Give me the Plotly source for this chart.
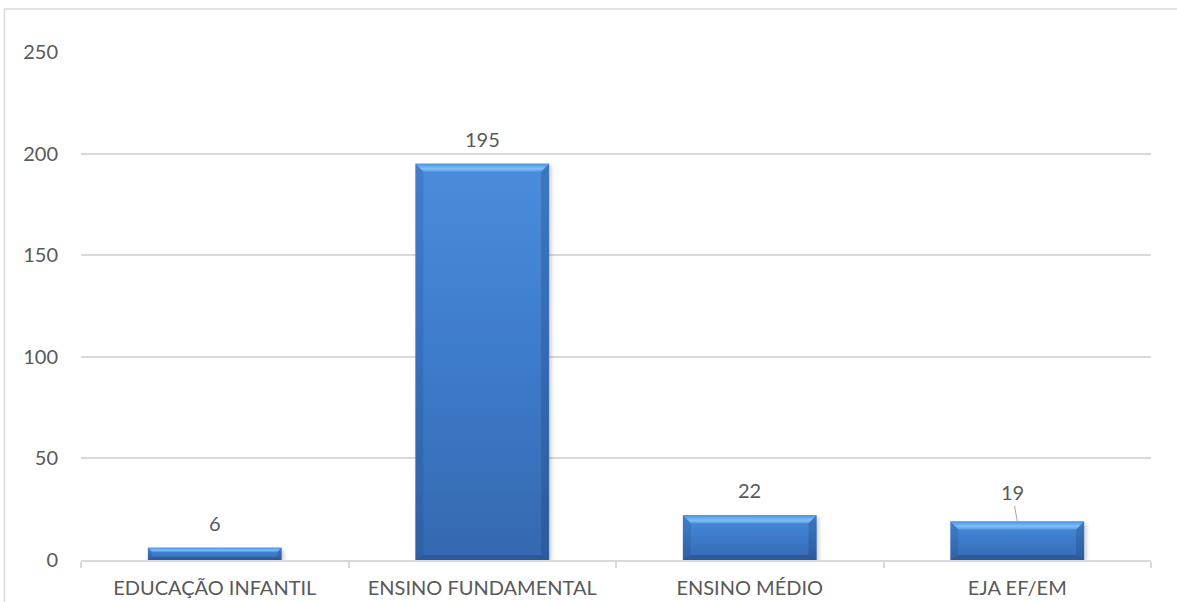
import plotly.graph_objects as go

# Matrículas por etapa de ensino
categories = ["EDUCAÇÃO INFANTIL", "ENSINO FUNDAMENTAL", "ENSINO MÉDIO", "EJA EF/EM"]
values = [6, 195, 22, 19]
y_ticks = [0, 50, 100, 150, 200, 250]

TEXT = "#595959"
GRID = "#d9d9d9"
FONT = "Lato"
FSIZE = 20

fig = go.Figure(
    go.Bar(
        x=categories,
        y=values,
        width=0.5,
        marker=dict(color="#3c78c6", line=dict(width=0)),
        hoverinfo="skip",
    )
)

# value labels above each bar; the last one sits higher with a leader line
for i, (c, v) in enumerate(zip(categories, values)):
    if i == len(categories) - 1:
        fig.add_annotation(
            x=c, y=v, text=str(v), showarrow=True, arrowhead=0,
            arrowwidth=1, arrowcolor="#a6a6a6", ax=-5, ay=-29,
            font=dict(family=FONT, size=FSIZE, color=TEXT),
        )
    else:
        fig.add_annotation(
            x=c, y=v, text=str(v), showarrow=False, yanchor="middle",
            yshift=25, font=dict(family=FONT, size=FSIZE, color=TEXT),
        )

# outer chart frame
fig.add_shape(
    type="rect", xref="paper", yref="paper",
    x0=-0.0715, x1=1.2, y0=-0.3, y1=1.0846,
    line=dict(color=GRID, width=1.5), fillcolor="rgba(0,0,0,0)", layer="below",
)

fig.update_layout(
    width=1177,
    height=602,
    margin=dict(l=81, r=26, t=52, b=42),
    paper_bgcolor="white",
    plot_bgcolor="white",
    showlegend=False,
    font=dict(family=FONT, size=FSIZE, color=TEXT),
    xaxis=dict(
        automargin=False,
        showgrid=False,
        showline=True,
        linecolor=GRID,
        linewidth=1.5,
        ticks="outside",
        tickson="boundaries",
        ticklen=6,
        tickcolor=GRID,
        tickwidth=1.5,
        ticklabelstandoff=9,
        tickfont=dict(family=FONT, size=FSIZE, color=TEXT),
        fixedrange=True,
    ),
    yaxis=dict(
        automargin=False,
        range=[0, 250],
        tickvals=y_ticks,
        showgrid=True,
        gridcolor=GRID,
        gridwidth=1.5,
        zeroline=False,
        showline=False,
        ticks="",
        ticklabelstandoff=22,
        tickfont=dict(family=FONT, size=FSIZE, color=TEXT),
        fixedrange=True,
    ),
)

# bevelled, gradient-filled bars with a soft drop shadow
bevel_js = """
var gd = document.getElementById('{plot_id}');
function bevelBars() {
  var ns = 'http://www.w3.org/2000/svg';
  var svg = gd.querySelector('svg.main-svg');
  var defs = svg.querySelector('defs');
  Array.prototype.forEach.call(gd.querySelectorAll('.bevel, .bevel-def'), function (n) { n.remove(); });

  function addGrad(id, stops) {
    var g = document.createElementNS(ns, 'linearGradient');
    g.setAttribute('id', id);
    g.setAttribute('class', 'bevel-def');
    g.setAttribute('x1', '0'); g.setAttribute('y1', '0');
    g.setAttribute('x2', '0'); g.setAttribute('y2', '1');
    stops.forEach(function (s) {
      var st = document.createElementNS(ns, 'stop');
      st.setAttribute('offset', s[0]); st.setAttribute('stop-color', s[1]);
      g.appendChild(st);
    });
    defs.appendChild(g);
  }
  addGrad('barFill', [['0', '#4a8cdb'], ['0.5', '#3d7bca'], ['1', '#3568b0']]);
  addGrad('barTop', [['0', '#4f90dc'], ['0.6', '#7cc0f7'], ['1', '#5a9de6']]);

  var flt = document.createElementNS(ns, 'filter');
  flt.setAttribute('id', 'barShadow');
  flt.setAttribute('class', 'bevel-def');
  flt.setAttribute('x', '-10%'); flt.setAttribute('y', '-10%');
  flt.setAttribute('width', '130%'); flt.setAttribute('height', '130%');
  var ds = document.createElementNS(ns, 'feDropShadow');
  ds.setAttribute('dx', '2'); ds.setAttribute('dy', '2');
  ds.setAttribute('stdDeviation', '2');
  ds.setAttribute('flood-color', '#000'); ds.setAttribute('flood-opacity', '0.22');
  flt.appendChild(ds);
  defs.appendChild(flt);

  Array.prototype.forEach.call(gd.querySelectorAll('.barlayer .point path'), function (p) {
    var b = p.getBBox();
    if (b.width <= 0 || b.height <= 0) return;
    p.style.fill = 'url(#barFill)';
    p.setAttribute('filter', 'url(#barShadow)');
    var x0 = b.x, x1 = b.x + b.width, y0 = b.y, y1 = b.y + b.height;
    var t = Math.min(8, b.height / 3);
    var tb = Math.min(5, b.height / 4);
    var parts = [
      [[[x0, y0], [x1, y0], [x1 - t, y0 + t], [x0 + t, y0 + t]], 'url(#barTop)'],
      [[[x0, y0], [x0 + t, y0 + t], [x0 + t, y1 - tb], [x0, y1]], 'rgba(20,45,90,0.14)'],
      [[[x1, y0], [x1 - t, y0 + t], [x1 - t, y1 - tb], [x1, y1]], 'rgba(20,45,90,0.22)'],
      [[[x0, y1], [x0 + t, y1 - tb], [x1 - t, y1 - tb], [x1, y1]], 'rgba(20,45,90,0.26)']
    ];
    parts.forEach(function (q) {
      var poly = document.createElementNS(ns, 'polygon');
      poly.setAttribute('class', 'bevel');
      poly.setAttribute('points', q[0].map(function (pt) { return pt.join(','); }).join(' '));
      poly.setAttribute('fill', q[1]);
      p.parentNode.appendChild(poly);
    });
  });
}
bevelBars();
gd.on('plotly_afterplot', bevelBars);
"""

fig.write_html("out.html", post_script=bevel_js, config={"displayModeBar": False})
